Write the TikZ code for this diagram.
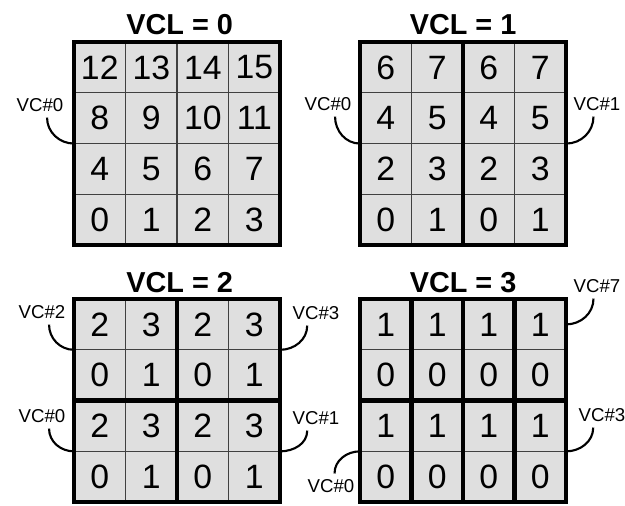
\documentclass[tikz,border=0pt]{standalone}
\usepackage{fontspec}
\setmainfont{Liberation Sans}

\tikzset{
    cell/.style={font=\fontsize{9.6}{9.6}\selectfont, inner sep=0pt},
    vcl/.style={font=\bfseries\fontsize{8.2}{8.2}\selectfont, inner sep=0pt},
    vc/.style={font=\fontsize{5.3}{5.3}\selectfont, inner sep=1.5pt},
    link/.style={line width=0.6pt},
    thinline/.style={line width=0.35pt, black!75},
    border/.style={line width=1.2pt},
}

\begin{document}
\begin{tikzpicture}[x=0.01cm, y=-0.01cm]
        \useasboundingbox (0,0) rectangle (625,505);

        % VCL = 0
        \begin{scope}[shift={(74,42)}, x=0.515cm, y=-0.5075cm]
            \fill[gray!25] (0,0) rectangle (4,4);
            \foreach \i in {1,2,3} \draw[thinline] (\i,0) -- (\i,4) (0,\i) -- (4,\i);
            \draw[border] (0,0) rectangle (4,4);
            \foreach \row [count=\r from 0] in {{12,13,14,15},{8,9,10,11},{4,5,6,7},{0,1,2,3}}
                \foreach \v [count=\c from 0] in \row
                    \node[cell] (a-\r-\c) at (\c+0.5,\r+0.5) {\v};
            \node[vcl] (ta) at (2.05,-0.34) {VCL = 0};
            \coordinate (a-w) at (0,2);
        \end{scope}

        % VCL = 1
        \begin{scope}[shift={(360,42)}, x=0.515cm, y=-0.5075cm]
            \fill[gray!25] (0,0) rectangle (4,4);
            \foreach \i in {1,2,3} \draw[thinline] (\i,0) -- (\i,4) (0,\i) -- (4,\i);
            \draw[border] (2,0) -- (2,4);
            \draw[border] (0,0) rectangle (4,4);
            \foreach \row [count=\r from 0] in {{6,7,6,7},{4,5,4,5},{2,3,2,3},{0,1,0,1}}
                \foreach \v [count=\c from 0] in \row
                    \node[cell] (b-\r-\c) at (\c+0.5,\r+0.5) {\v};
            \node[vcl] (tb) at (2,-0.34) {VCL = 1};
            \coordinate (b-w) at (0,2);
            \coordinate (b-e) at (4,2);
        \end{scope}

        % VCL = 2
        \begin{scope}[shift={(74,299)}, x=0.515cm, y=-0.5075cm]
            \fill[gray!25] (0,0) rectangle (4,4);
            \foreach \i in {1,2,3} \draw[thinline] (\i,0) -- (\i,4) (0,\i) -- (4,\i);
            \draw[border] (2,0) -- (2,4) (0,2) -- (4,2);
            \draw[border] (0,0) rectangle (4,4);
            \foreach \row [count=\r from 0] in {{2,3,2,3},{0,1,0,1},{2,3,2,3},{0,1,0,1}}
                \foreach \v [count=\c from 0] in \row
                    \node[cell] (c-\r-\c) at (\c+0.5,\r+0.5) {\v};
            \node[vcl] (tc) at (2.05,-0.32) {VCL = 2};
            \coordinate (c-w1) at (0,1);
            \coordinate (c-w3) at (0,3);
            \coordinate (c-e1) at (4,1);
            \coordinate (c-e3) at (4,3);
        \end{scope}

        % VCL = 3
        \begin{scope}[shift={(360,299)}, x=0.515cm, y=-0.5075cm]
            \fill[gray!25] (0,0) rectangle (4,4);
            \foreach \i in {1,2,3} \draw[thinline] (\i,0) -- (\i,4) (0,\i) -- (4,\i);
            \draw[border] (1,0) -- (1,4) (2,0) -- (2,4) (3,0) -- (3,4) (0,2) -- (4,2);
            \draw[border] (0,0) rectangle (4,4);
            \foreach \row [count=\r from 0] in {{1,1,1,1},{0,0,0,0},{1,1,1,1},{0,0,0,0}}
                \foreach \v [count=\c from 0] in \row
                    \node[cell] (d-\r-\c) at (\c+0.5,\r+0.5) {\v};
            \node[vcl] (td) at (2,-0.32) {VCL = 3};
            \coordinate (d-w3) at (0,3);
            \coordinate (d-e0) at (4,0.5);
            \coordinate (d-e3) at (4,3);
        \end{scope}

        % VC labels
        \node[vc] (vc-a0) at (40,105) {VC\#0};
        \draw[link] ([xshift=2pt]vc-a0.south) to[out=-90,in=180] (a-w);

        \node[vc] (vc-b0) at (328,104) {VC\#0};
        \node[vc] (vc-b1) at (597,104) {VC\#1};
        \draw[link] ([xshift=2pt]vc-b0.south) to[out=-90,in=180] (b-w);
        \draw[link] ([xshift=-1pt]vc-b1.south) to[out=-90,in=0] (b-e);

        \node[vc] (vc-c2) at (42,312) {VC\#2};
        \node[vc] (vc-c0) at (42,416) {VC\#0};
        \node[vc] (vc-c3) at (316,313) {VC\#3};
        \node[vc] (vc-c1) at (316,418) {VC\#1};
        \draw[link] ([xshift=2pt]vc-c2.south) to[out=-90,in=180] (c-w1);
        \draw[link] ([xshift=2pt]vc-c0.south) to[out=-90,in=180] (c-w3);
        \draw[link] ([xshift=-2.5pt]vc-c3.south) to[out=-90,in=0] (c-e1);
        \draw[link] ([xshift=-2.5pt]vc-c1.south) to[out=-90,in=0] (c-e3);

        \node[vc] (vc-d7) at (597,286) {VC\#7};
        \node[vc] (vc-d3) at (602,415) {VC\#3};
        \node[vc] (vc-d0) at (331,486) {VC\#0};
        \draw[link] ([xshift=-1pt]vc-d7.south) to[out=-90,in=0] (d-e0);
        \draw[link] ([xshift=-2.5pt]vc-d3.south) to[out=-90,in=0] (d-e3);
        \draw[link] ([xshift=1pt]vc-d0.north) to[out=90,in=180] (d-w3);
    \end{tikzpicture}
\end{document}
